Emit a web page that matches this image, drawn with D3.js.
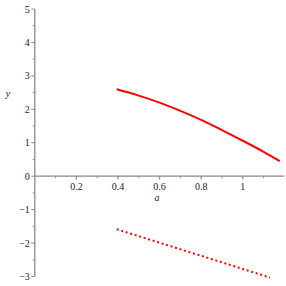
<!DOCTYPE html>
<html lang="en">
<head>
<meta charset="UTF-8">
<script src="https://cdnjs.cloudflare.com/ajax/libs/d3/7.8.5/d3.min.js"></script>
<style>
  body { margin: 0; background: #fff; }
  text { font-family: "Liberation Serif", "DejaVu Serif", serif; font-size: 10px; fill: #222; }
</style>
</head>
<body>
<div id="chart"></div>
<script>
// solid curve
const curveA = [0.394, 0.5, 0.6, 0.7, 0.8, 0.9, 1.0, 1.1, 1.178];
const curveY = [2.60, 2.41, 2.20, 1.955, 1.685, 1.38, 1.06, 0.73, 0.45];
// dotted line
const dotA = [0.394, 1.13];
const dotY = [-1.585, -3.03];

const xTicks = [0.2, 0.4, 0.6, 0.8, 1];
const xTickLabels = ["0.2", "0.4", "0.6", "0.8", "1"];
const yTicks = [-3, -2, -1, 0, 1, 2, 3, 4, 5];

const width = 286, height = 286;
const x = d3.scaleLinear().domain([0, 1.2]).range([34.8, 284.4]);
const y = d3.scaleLinear().domain([-3, 5]).range([276.5, 9]);

const svg = d3.select("#chart").append("svg")
  .attr("width", width).attr("height", height);

const axisColor = "#8a8a8a";

// x axis at y=0
const gx = svg.append("g").attr("transform", `translate(0,${y(0)})`);
gx.append("line").attr("x1", x(0)).attr("x2", x(1.2))
  .attr("stroke", axisColor).attr("stroke-width", 1.3);
const xMinor = d3.range(0.1, 1.2, 0.1);
gx.selectAll("line.minor").data(xMinor).join("line")
  .attr("class", "minor")
  .attr("x1", d => x(d)).attr("x2", d => x(d))
  .attr("y1", 0).attr("y2", 2)
  .attr("stroke", axisColor);
gx.selectAll("line.major").data(xTicks).join("line")
  .attr("class", "major")
  .attr("x1", d => x(d)).attr("x2", d => x(d))
  .attr("y1", 0).attr("y2", 3.5)
  .attr("stroke", axisColor);
gx.selectAll("text").data(xTicks).join("text")
  .attr("x", d => x(d)).attr("y", 14)
  .attr("text-anchor", "middle")
  .text((d, i) => xTickLabels[i]);

// y axis at x=0
const gy = svg.append("g").attr("transform", `translate(${x(0)},0)`);
gy.append("line").attr("y1", y(-3)).attr("y2", y(5))
  .attr("stroke", axisColor).attr("stroke-width", 1.3);
const yMinor = d3.range(-2.5, 5, 1);
gy.selectAll("line.minor").data(yMinor).join("line")
  .attr("class", "minor")
  .attr("y1", d => y(d)).attr("y2", d => y(d))
  .attr("x1", 0).attr("x2", -2)
  .attr("stroke", axisColor);
gy.selectAll("line.major").data(yTicks).join("line")
  .attr("class", "major")
  .attr("y1", d => y(d)).attr("y2", d => y(d))
  .attr("x1", 0).attr("x2", -3.5)
  .attr("stroke", axisColor);
gy.selectAll("text").data(yTicks).join("text")
  .attr("x", -5).attr("y", d => y(d) + 3.5)
  .attr("text-anchor", "end")
  .text(d => d < 0 ? "\u2212" + Math.abs(d) : d);

// axis titles
svg.append("text").attr("x", 157).attr("y", 201)
  .attr("text-anchor", "middle").attr("font-style", "italic").text("a");
svg.append("text").attr("x", 8).attr("y", 97)
  .attr("text-anchor", "middle").attr("font-style", "italic").text("y");

const line = d3.line().x(d => x(d[0])).y(d => y(d[1])).curve(d3.curveMonotoneX);

svg.append("path")
  .datum(curveA.map((a, i) => [a, curveY[i]]))
  .attr("d", line)
  .attr("fill", "none").attr("stroke", "#ff0000").attr("stroke-width", 2);

svg.append("path")
  .datum(dotA.map((a, i) => [a, dotY[i]]))
  .attr("d", line)
  .attr("fill", "none").attr("stroke", "#ff0000").attr("stroke-width", 2)
  .attr("stroke-dasharray", "2,2.7");
</script>
</body>
</html>
